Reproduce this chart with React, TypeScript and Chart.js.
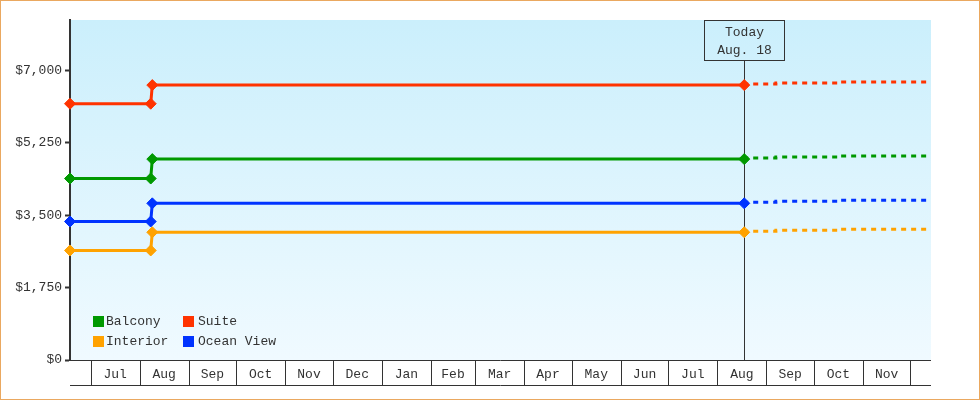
import { useEffect, useRef } from "react";
import { Chart, registerables } from "chart.js";

Chart.register(...registerables);

// dates of the price history (before today) and the projection (after today)
const historyDates = ["2014-06-18", "2014-08-08", "2014-08-09", "2015-08-18"];
const projectionDates = ["2015-08-18", "2015-09-07", "2015-10-16", "2015-11-27", "2015-12-14"];

const seriesNames = ["Balcony", "Suite", "Interior", "Ocean View"];
const seriesColors = ["#009900", "#ff3300", "#ffa200", "#0033ff"];

const balconyHistory = [4390, 4390, 4860, 4860];
const suiteHistory = [6200, 6200, 6650, 6650];
const interiorHistory = [2650, 2650, 3090, 3090];
const oceanHistory = [3350, 3350, 3790, 3790];

const balconyProjection = [4860, 4885, 4910, 4935, 4935];
const suiteProjection = [6650, 6675, 6700, 6725, 6725];
const interiorProjection = [3090, 3115, 3140, 3165, 3165];
const oceanProjection = [3790, 3815, 3840, 3865, 3865];

const yTicks = [0, 1750, 3500, 5250, 7000];
const yMax = 8225;

const monthLabels = ["Jul", "Aug", "Sep", "Oct", "Nov", "Dec", "Jan", "Feb", "Mar", "Apr", "May", "Jun", "Jul", "Aug", "Sep", "Oct", "Nov"];
const firstMonth = "2014-07-01";
const xStart = "2014-06-18";
const xEnd = "2015-12-14";
const today = "2015-08-18";
const todayLabel = ["Today", "Aug. 18"];

const FONT = '"Liberation Mono", monospace';
const INK = "#333333";

const toDay = (s: string) => Date.parse(s) / 864e5;

// month boundaries (day numbers), one more than the labels
const m0 = new Date(firstMonth);
const monthStarts = Array.from(
  { length: monthLabels.length + 1 },
  (_, i) => Date.UTC(m0.getUTCFullYear(), m0.getUTCMonth() + i, 1) / 864e5
);

const histories = [balconyHistory, suiteHistory, interiorHistory, oceanHistory];
const projections = [balconyProjection, suiteProjection, interiorProjection, oceanProjection];

const decor = {
  id: "decor",
  beforeDraw(chart: any) {
    const { ctx, chartArea: a } = chart;
    const g = ctx.createLinearGradient(0, a.top, 0, a.bottom);
    g.addColorStop(0, "#cbeffc");
    g.addColorStop(1, "#f0faff");
    ctx.save();
    ctx.fillStyle = g;
    ctx.fillRect(a.left, a.top, a.right - a.left, a.bottom - a.top);
    ctx.restore();
  },
  beforeDatasetsDraw(chart: any) {
    const { ctx, chartArea: a, scales } = chart;
    const x = Math.round(scales.x.getPixelForValue(toDay(today))) + 0.5;
    ctx.save();
    ctx.strokeStyle = INK;
    ctx.lineWidth = 1;
    ctx.beginPath();
    ctx.moveTo(x, a.top + 40);
    ctx.lineTo(x, a.bottom);
    ctx.stroke();
    ctx.restore();
  },
  afterDraw(chart: any) {
    const { ctx, chartArea: a, scales } = chart;
    ctx.save();
    ctx.strokeStyle = INK;
    ctx.lineWidth = 1;

    // month boxes under the plot
    const top = Math.round(a.bottom) + 0.5;
    const bot = top + 25;
    ctx.beginPath();
    ctx.moveTo(a.left, top);
    ctx.lineTo(a.right, top);
    ctx.moveTo(a.left, bot);
    ctx.lineTo(a.right, bot);
    monthStarts.forEach((d) => {
      const px = Math.round(scales.x.getPixelForValue(d)) + 0.5;
      if (px < a.left || px > a.right) return;
      ctx.moveTo(px, top);
      ctx.lineTo(px, bot);
    });
    ctx.stroke();

    // today box
    const tx = Math.round(scales.x.getPixelForValue(toDay(today))) + 0.5;
    ctx.strokeRect(tx - 40, Math.round(a.top) + 0.5, 80, 40);
    ctx.fillStyle = INK;
    ctx.font = `13px ${FONT}`;
    ctx.textAlign = "center";
    ctx.textBaseline = "middle";
    ctx.fillText(todayLabel[0], tx, a.top + 13);
    ctx.fillText(todayLabel[1], tx, a.top + 31);

    // legend, two columns
    ctx.textAlign = "left";
    seriesNames.forEach((name, i) => {
      const col = i % 2;
      const row = Math.floor(i / 2);
      const lx = a.left + 23 + col * 90;
      const ly = a.bottom - 39 + row * 20;
      ctx.fillStyle = seriesColors[i];
      ctx.fillRect(lx, ly - 5, 11, 11);
      ctx.fillStyle = INK;
      ctx.fillText(name, lx + 13 + col * 2, ly + 1);
    });
    ctx.restore();
  },
};

export default function App() {
  const canvasRef = useRef<HTMLCanvasElement | null>(null);

  useEffect(() => {
    if (!canvasRef.current) return;

    const datasets: any[] = [];
    seriesNames.forEach((name, i) => {
      datasets.push({
        label: name,
        data: histories[i].map((v, k) => ({ x: toDay(historyDates[k]), y: v })),
        borderColor: seriesColors[i],
        backgroundColor: seriesColors[i],
        borderWidth: 3,
        pointStyle: "rectRot",
        pointRadius: 5.5,
        pointBorderWidth: 1,
        clip: false,
        fill: false,
      });
      datasets.push({
        label: name + " projection",
        data: projections[i].map((v, k) => ({ x: toDay(projectionDates[k]), y: v })),
        borderColor: seriesColors[i],
        backgroundColor: seriesColors[i],
        borderWidth: 3,
        borderDash: [5, 5],
        stepped: "after",
        pointRadius: 0,
        fill: false,
      });
    });

    const chart = new Chart(canvasRef.current, {
      type: "line",
      data: { datasets },
      plugins: [decor],
      options: {
        responsive: false,
        animation: false,
        devicePixelRatio: 1,
        layout: { padding: { top: 19, right: 48, bottom: 0, left: 0 } },
        plugins: { legend: { display: false }, tooltip: { enabled: false } },
        scales: {
          x: {
            type: "linear",
            min: toDay(xStart),
            max: toDay(xEnd),
            afterFit: (s: any) => {
              s.height = 39;
            },
            afterBuildTicks: (s: any) => {
              s.ticks = monthLabels.map((_, i) => ({ value: (monthStarts[i] + monthStarts[i + 1]) / 2 }));
            },
            grid: { display: false, drawTicks: false },
            border: { display: false },
            ticks: {
              autoSkip: false,
              maxRotation: 0,
              minRotation: 0,
              padding: 7,
              color: INK,
              font: { family: FONT, size: 13 },
              callback: (_v: any, i: number) => monthLabels[i],
            },
          },
          y: {
            min: 0,
            max: yMax,
            afterFit: (s: any) => {
              s.width = 69;
            },
            afterBuildTicks: (s: any) => {
              s.ticks = yTicks.map((v) => ({ value: v }));
            },
            grid: {
              drawOnChartArea: false,
              drawTicks: true,
              tickLength: 5,
              tickWidth: 2,
              tickColor: INK,
            },
            border: { display: true, color: INK, width: 2 },
            ticks: {
              padding: 3,
              color: INK,
              font: { family: FONT, size: 13 },
              callback: (v: any) => "$" + Number(v).toLocaleString("en-US"),
            },
          },
        },
      },
    } as any);

    return () => {
      chart.destroy();
    };
  }, []);

  return (
    <div
      style={{
        position: "fixed",
        left: 0,
        top: 0,
        width: 980,
        height: 400,
        boxSizing: "border-box",
        border: "1px solid #eaa860",
        background: "#fff",
      }}
    >
      <canvas ref={canvasRef} width={978} height={398} style={{ display: "block" }} />
    </div>
  );
}
